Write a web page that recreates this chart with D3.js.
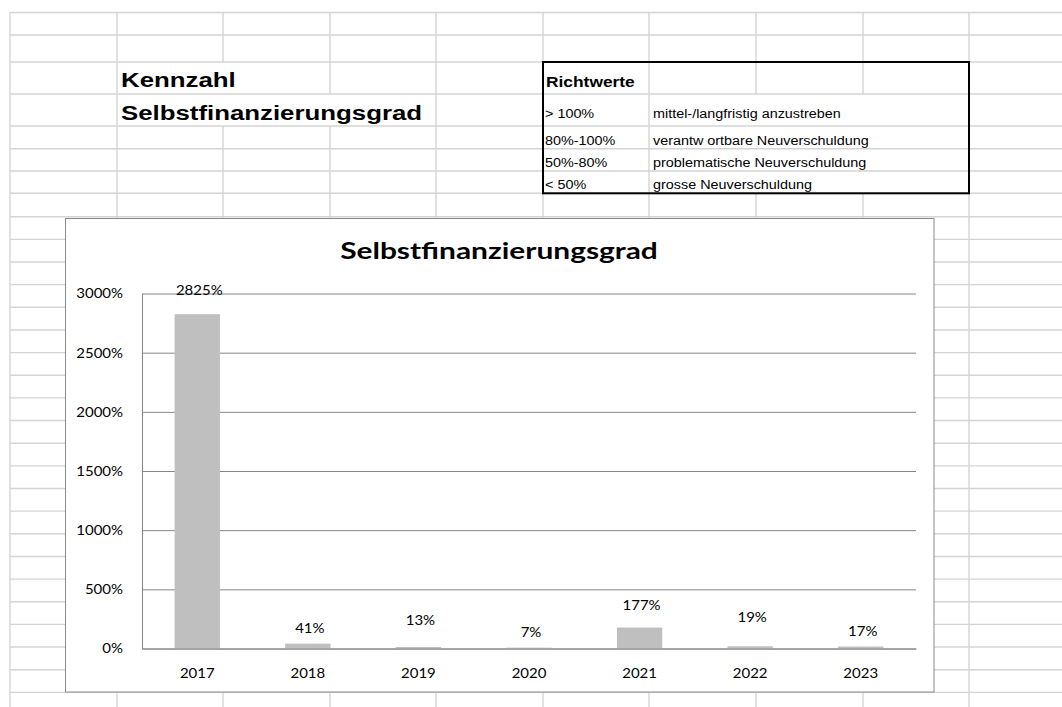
<!DOCTYPE html>
<html>
<head>
<meta charset="utf-8">
<script src="https://cdn.jsdelivr.net/npm/d3@7"></script>
<style>
  body { margin: 0; background: #fff; }
  svg { display: block; }
</style>
</head>
<body>
<div id="chart"></div>
<script>
// data
var years = ["2017", "2018", "2019", "2020", "2021", "2022", "2023"];
var ratio = [2825, 41, 13, 7, 177, 19, 17];
var yTicks = [0, 500, 1000, 1500, 2000, 2500, 3000];
var sheetTitle = ["Kennzahl", "Selbstfinanzierungsgrad"];
var guideTitle = "Richtwerte";
var guideRanges = ["> 100%", "80%-100%", "50%-80%", "< 50%"];
var guideTexts = ["mittel-/langfristig anzustreben", "verantw ortbare Neuverschuldung",
                  "problematische Neuverschuldung", "grosse Neuverschuldung"];
var chartTitle = "Selbstfinanzierungsgrad";

var W = 1062, H = 707;
var svg = d3.select("#chart").append("svg")
    .attr("width", W)
    .attr("height", H);

// stretch text a bit wider, the sheet was rendered that way
function stretch(sel, k) {
    sel.each(function () {
        var w = this.getComputedTextLength();
        d3.select(this).attr("textLength", w * k).attr("lengthAdjust", "spacingAndGlyphs");
    });
}

//--- spreadsheet grid behind everything
var colX = [10, 117, 223, 330, 436, 543, 649, 756, 863, 969];
var rowY = [12.5, 35, 62, 94, 126, 148.7, 171, 193.3, 216.7];
while (rowY[rowY.length - 1] + 22.65 < H + 22) rowY.push(rowY[rowY.length - 1] + 22.65);

// cells where text runs over or cells are merged
function hidden(x, y0) {
    if (x == 223 && (y0 == 62 || y0 == 94)) return true;
    if (x == 330 && y0 == 94) return true;
    if ((x == 756 || x == 863) && y0 >= 94 && y0 < 193) return true;
    return false;
}

var grid = svg.append("g").attr("stroke", "#d4d4d4").attr("stroke-width", 1.4);
rowY.forEach(function (y) {
    grid.append("line").attr("x1", 10).attr("x2", W).attr("y1", y).attr("y2", y);
});
colX.forEach(function (x) {
    for (var i = 0; i < rowY.length - 1; i++) {
        if (hidden(x, rowY[i])) continue;
        grid.append("line").attr("x1", x).attr("x2", x)
            .attr("y1", rowY[i]).attr("y2", rowY[i + 1]);
    }
});

//--- sheet texts
var st = svg.append("g")
    .attr("font-family", "'Liberation Sans', Arial, sans-serif")
    .attr("font-weight", "bold")
    .attr("font-size", 20)
    .attr("fill", "#000");
st.selectAll("text")
    .data(sheetTitle)
    .enter().append("text")
    .attr("x", 121)
    .attr("y", function (d, i) { return i == 0 ? 87.3 : 119.5; })
    .text(function (d) { return d; })
    .call(stretch, 1.29);

// Richtwerte box
svg.append("rect")
    .attr("x", 543).attr("y", 62)
    .attr("width", 969 - 543).attr("height", 193.3 - 62)
    .attr("fill", "none")
    .attr("stroke", "#000")
    .attr("stroke-width", 2);

svg.append("text")
    .attr("x", 546).attr("y", 87.3)
    .attr("font-family", "'Liberation Sans', Arial, sans-serif")
    .attr("font-weight", "bold")
    .attr("font-size", 14)
    .text(guideTitle)
    .call(stretch, 1.24);

var guideY = [118.3, 145, 166.5, 188.5];
var gt = svg.append("g")
    .attr("font-family", "'Liberation Sans', Arial, sans-serif")
    .attr("font-size", 12.5)
    .attr("fill", "#000");
gt.selectAll("text.range")
    .data(guideRanges)
    .enter().append("text")
    .attr("class", "range")
    .attr("x", 545)
    .attr("y", function (d, i) { return guideY[i]; })
    .text(function (d) { return d; })
    .call(stretch, 1.15);
gt.selectAll("text.desc")
    .data(guideTexts)
    .enter().append("text")
    .attr("class", "desc")
    .attr("x", 653)
    .attr("y", function (d, i) { return guideY[i]; })
    .text(function (d) { return d; })
    .call(stretch, 1.15);

//--- the chart object
svg.append("rect")
    .attr("x", 65.5).attr("y", 218.5)
    .attr("width", 868.5).attr("height", 473.5)
    .attr("fill", "#fff")
    .attr("stroke", "#8a8a8a")
    .attr("stroke-width", 1);

var chartFont = "Lato, 'Open Sans', sans-serif";

svg.append("text")
    .attr("x", 499).attr("y", 258.5)
    .attr("text-anchor", "middle")
    .attr("font-family", chartFont)
    .attr("font-weight", "bold")
    .attr("font-size", 23)
    .text(chartTitle)
    .call(stretch, 1.3);

var x = d3.scaleBand()
    .domain(years)
    .range([142, 916]);

var y = d3.scaleLinear()
    .domain([0, 3000])
    .range([648.5, 293.5]);

// gridlines
svg.append("g")
    .attr("class", "grid")
    .attr("transform", "translate(142,0)")
    .call(d3.axisLeft(y).tickValues(yTicks).tickSize(-774).tickFormat(""))
    .call(function (g) { g.select(".domain").remove(); })
    .selectAll("line").attr("stroke", "#868686");

var yAxis = svg.append("g")
    .attr("class", "y-axis")
    .attr("transform", "translate(142,0)")
    .call(d3.axisLeft(y).tickValues(yTicks).tickSize(0).tickPadding(19)
        .tickFormat(function (d) { return d + "%"; }));
yAxis.select(".domain").attr("stroke", "#868686");
yAxis.selectAll("text")
    .attr("font-family", chartFont)
    .attr("font-size", 14)
    .attr("fill", "#000")
    .call(stretch, 1.07);

// bars
var barW = x.bandwidth() * 0.41;
svg.selectAll("rect.bar")
    .data(ratio)
    .enter().append("rect")
    .attr("class", "bar")
    .style("fill", "#bfbfbf")
    .attr("x", function (d, i) { return x(years[i]) + (x.bandwidth() - barW) / 2; })
    .attr("width", barW)
    .attr("y", function (d) { return y(d); })
    .attr("height", function (d) { return y(0) - y(d); });

var xAxis = svg.append("g")
    .attr("class", "x-axis")
    .attr("transform", "translate(0," + y(0) + ")")
    .call(d3.axisBottom(x).tickSize(0).tickPadding(20));
xAxis.select(".domain").attr("stroke", "#868686");
xAxis.selectAll("text")
    .attr("font-family", chartFont)
    .attr("font-size", 14)
    .attr("fill", "#000")
    .call(stretch, 1.07);

// data labels were moved by hand in the sheet, so each has its own lift
var labelLift = [19, 10.3, 22, 10.4, 17.6, 24.5, 10.8];
svg.selectAll("text.label")
    .data(ratio)
    .enter().append("text")
    .attr("class", "label")
    .attr("x", function (d, i) { return x(years[i]) + x.bandwidth() / 2 + 2; })
    .attr("y", function (d, i) { return y(d) - labelLift[i]; })
    .attr("text-anchor", "middle")
    .attr("font-family", chartFont)
    .attr("font-size", 14)
    .text(function (d) { return d + "%"; })
    .call(stretch, 1.07);
</script>
</body>
</html>
